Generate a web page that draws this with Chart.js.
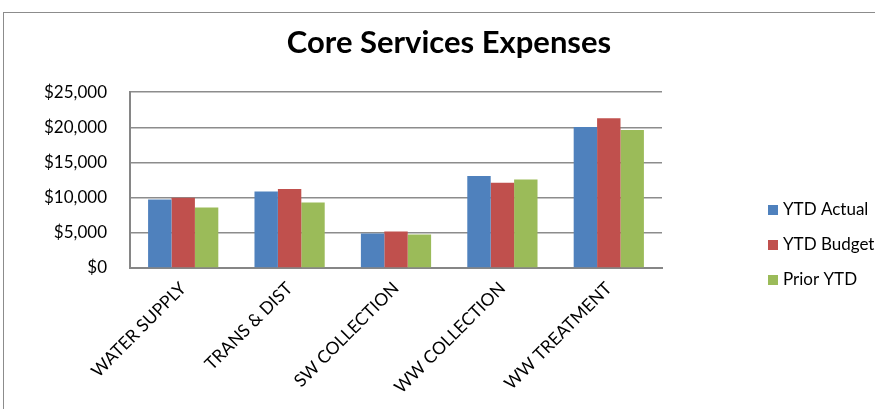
<!doctype html>
<meta charset="utf-8">
<title>Core Services Expenses</title>
<style>
    body {
        margin: 0;
        background: #fff;
    }
    .frame {
        position: absolute;
        left: 3px;
        top: 12px;
        width: 1000px;
        height: 1000px;
        border: 1px solid #8c8c8c;
    }
    .wrap {
        position: absolute;
        left: 0;
        top: 0;
        width: 875px;
        height: 409px;
    }
</style>
<body>
    <div class="frame"></div>
    <div class="wrap"><canvas id="chart"></canvas></div>
    <script src="https://cdn.jsdelivr.net/npm/chart.js@4.4.1/dist/chart.umd.min.js"></script>
    <script>
        const categories = ["WATER SUPPLY", "TRANS & DIST", "SW COLLECTION", "WW COLLECTION", "WW TREATMENT"];
        const ytdActual = [9750, 10870, 4900, 13090, 20050];
        const ytdBudget = [9980, 11250, 5180, 12140, 21280];
        const priorYtd = [8620, 9320, 4760, 12570, 19630];
        const yTicks = [0, 5000, 10000, 15000, 20000, 25000];

        const font = "Lato, 'Noto Sans', sans-serif";

        // legend drawn by hand so it can sit away from the plot like the original
        const sideLegend = {
            id: "sideLegend",
            afterDraw(chart) {
                const ctx = chart.ctx;
                ctx.save();
                ctx.font = "17px " + font;
                ctx.textBaseline = "middle";
                chart.data.datasets.forEach((ds, i) => {
                    const y = 210 + i * 35;
                    ctx.fillStyle = ds.backgroundColor;
                    ctx.fillRect(768, y - 5, 10, 10);
                    ctx.fillStyle = "#000";
                    ctx.fillText(ds.label, 783, y);
                });
                ctx.restore();
            }
        };

        new Chart(document.getElementById("chart"), {
            type: "bar",
            data: {
                labels: categories,
                datasets: [{
                    label: "YTD Actual",
                    data: ytdActual,
                    backgroundColor: "#4f81bd",
                    yAxisID: "y",
                }, {
                    label: "YTD Budget",
                    data: ytdBudget,
                    backgroundColor: "#c0504d",
                    yAxisID: "y",
                }, {
                    label: "Prior YTD",
                    data: priorYtd,
                    backgroundColor: "#9bbb59",
                    yAxisID: "y",
                }],
            },
            options: {
                responsive: true,
                maintainAspectRatio: false,
                animation: false,
                categoryPercentage: 0.66,
                barPercentage: 1,
                layout: {
                    padding: { left: 23, right: 0, top: 0, bottom: 0 },
                },
                plugins: {
                    legend: { display: false },
                    tooltip: { enabled: false },
                    title: {
                        display: true,
                        text: "Core Services Expenses",
                        color: "#000",
                        font: { family: font, size: 31, weight: "bold" },
                        padding: { top: 24, bottom: 31 },
                    },
                },
                scales: {
                    x: {
                        grid: { display: false },
                        border: { display: true, color: "#868686", width: 2 },
                        ticks: {
                            color: "#000",
                            font: { family: font, size: 17.5 },
                            maxRotation: 45,
                            minRotation: 45,
                            padding: 2,
                        },
                        afterFit: (s) => { s.height = 141; },
                    },
                    y: {
                        min: 0,
                        max: 25000,
                        afterBuildTicks: (s) => { s.ticks = yTicks.map(v => ({ value: v })); },
                        grid: { color: "#8c8c8c", lineWidth: 1.5, drawTicks: false },
                        border: { display: true, color: "#868686", width: 2 },
                        ticks: {
                            color: "#000",
                            font: { family: font, size: 17 },
                            padding: 23,
                            callback: (v) => "$" + v.toLocaleString("en-US"),
                        },
                        afterFit: (s) => { s.width = 107; },
                    },
                    // empty right-hand axis keeps room for the legend
                    side: {
                        position: "right",
                        display: true,
                        grid: { display: false },
                        border: { display: false },
                        ticks: { display: false },
                        afterFit: (s) => { s.width = 213; },
                    },
                },
            },
            plugins: [sideLegend],
        });
    </script>
</body>
